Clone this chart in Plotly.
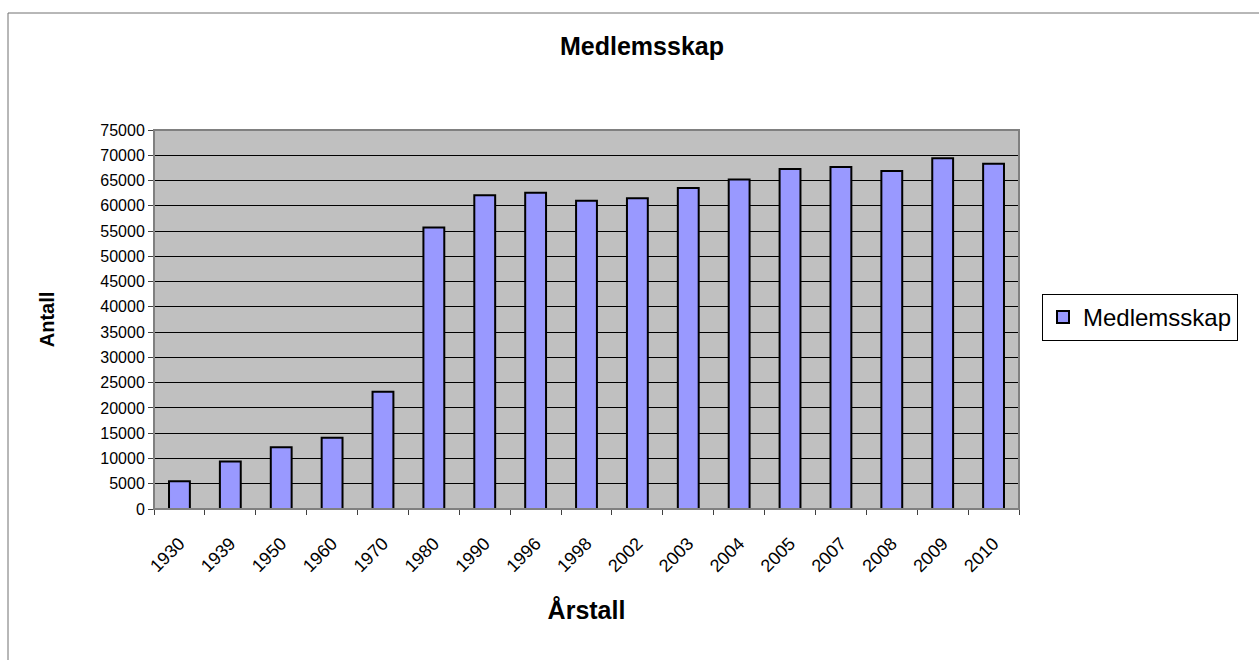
import plotly.graph_objects as go

years = ["1930", "1939", "1950", "1960", "1970", "1980", "1990", "1996", "1998",
         "2002", "2003", "2004", "2005", "2007", "2008", "2009", "2010"]
members = [5500, 9400, 12200, 14100, 23200, 55700, 62100, 62600, 61000,
           61500, 63500, 65200, 67300, 67700, 66900, 69400, 68300]
y_ticks = list(range(0, 75001, 5000))

L, R, T, B = 154, 1019, 130, 509
W, H = 1259, 660
pw, ph = R - L, B - T

def px(x):
    return (x - L) / pw

def py(y):
    return (B - y) / ph

fig = go.Figure()
fig.add_trace(go.Bar(
    x=years, y=members, name="Medlemsskap",
    marker=dict(color="#9999ff", line=dict(color="black", width=2)),
))

font = "Liberation Sans, Arial, sans-serif"
fig.update_layout(
    width=W, height=H,
    margin=dict(l=L, r=W - R, t=T, b=H - B, pad=0),
    paper_bgcolor="white", plot_bgcolor="#c0c0c0",
    font=dict(family=font, color="black", size=16),
    bargap=0.59,
    title=dict(text="<b>Medlemsskap</b>", x=px(642), xref="paper", xanchor="center",
               y=1 - 46 / H, yanchor="middle", font=dict(size=25)),
    showlegend=True,
    legend=dict(x=px(1042), xanchor="left", y=py(317.5), yanchor="middle",
                bordercolor="black", borderwidth=1, bgcolor="white",
                font=dict(size=24), itemsizing="constant", itemwidth=30),
    xaxis=dict(type="category", tickangle=-45, tickson="boundaries",
               ticks="outside", ticklen=5, tickcolor="#404040",
               showline=True, linecolor="#404040", linewidth=1,
               showgrid=False, mirror=False, ticklabelstandoff=16,
               tickfont=dict(size=18),
               title=dict(text="<b>Årstall</b>", font=dict(size=25), standoff=26)),
    yaxis=dict(range=[0, 75000], tickvals=y_ticks, ticktext=[str(v) for v in y_ticks],
               ticks="outside", ticklen=5, tickcolor="#404040",
               showline=True, linecolor="#404040", linewidth=1,
               showgrid=True, gridcolor="black", gridwidth=1,
               zeroline=False, tickfont=dict(size=16),
               title=dict(text="<b>Antall</b>", font=dict(size=20), standoff=40)),
)

# plot-area border in gray
fig.add_shape(type="rect", xref="paper", yref="paper", x0=0, x1=1, y0=0, y1=1,
              line=dict(color="#808080", width=2), fillcolor="rgba(0,0,0,0)", layer="above")
# outer chart frame
fig.add_shape(type="rect", xref="paper", yref="paper",
              x0=px(8), x1=px(1270), y0=py(13), y1=py(680),
              line=dict(color="#707070", width=1), fillcolor="rgba(0,0,0,0)")

fig.write_html("out.html", config={"displayModeBar": False},
               post_script="document.body.style.margin='0';")
